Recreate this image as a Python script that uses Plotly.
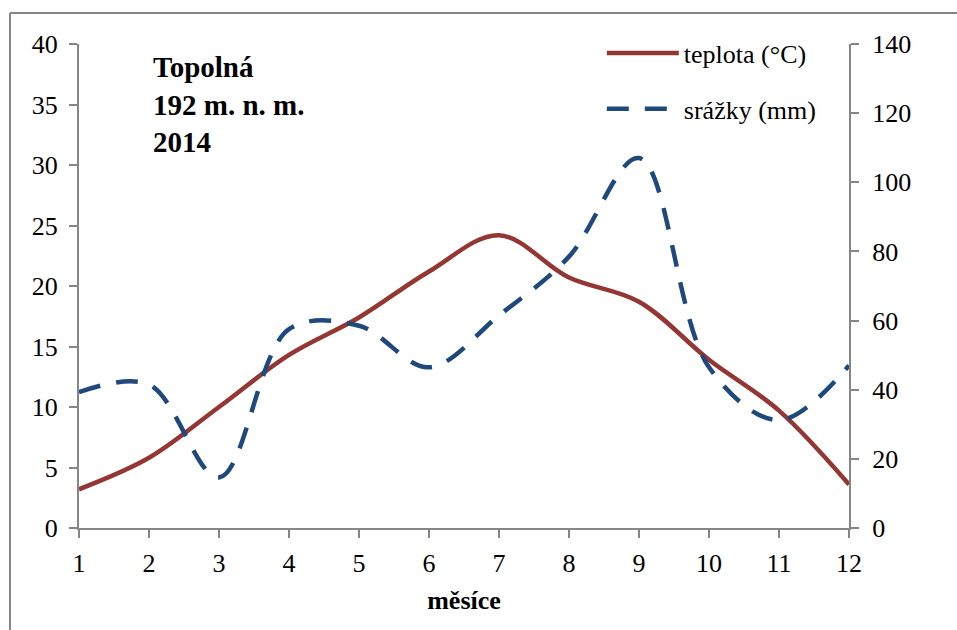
import plotly.graph_objects as go

months = [1, 2, 3, 4, 5, 6, 7, 8, 9, 10, 11, 12]
teplota = [3.2, 5.8, 10.0, 14.3, 17.4, 21.2, 24.2, 20.7, 18.7, 13.9, 9.7, 3.6]
srazky = [39.3, 41.5, 14.6, 57.5, 58.5, 46.5, 61.5, 78.5, 107.0, 46.5, 31.2, 47.0]

FONT = "Liberation Serif"
AXC = "#868686"

fig = go.Figure()
fig.add_trace(go.Scatter(
    x=months, y=teplota, name="teplota (°C)", mode="lines",
    line=dict(color="#943634", width=4.5, shape="spline", smoothing=1),
    legendgroup="a", yaxis="y"))
fig.add_trace(go.Scatter(
    x=months, y=srazky, name="srážky (mm)", mode="lines",
    line=dict(color="#1F497D", width=4.5, shape="spline", smoothing=1, dash="22px,16px"),
    legendgroup="b", yaxis="y2"))

axis_common = dict(showline=True, linecolor=AXC, linewidth=2, ticks="outside",
                   tickcolor=AXC, tickwidth=2, ticklen=8, showgrid=False, zeroline=False,
                   tickfont=dict(family=FONT, size=26, color="black"))

fig.update_layout(
    width=957, height=630,
    margin=dict(l=79, r=108, t=44, b=102),
    paper_bgcolor="white", plot_bgcolor="white",
    font=dict(family=FONT, size=26, color="black"),
    xaxis=dict(range=[1, 12], tickmode="linear", tick0=1, dtick=1,
               title=dict(text="<b>měsíce</b>", font=dict(family=FONT, size=26), standoff=14),
               ticklabelstandoff=3, **axis_common),
    yaxis=dict(range=[0, 40], tickmode="linear", tick0=0, dtick=5,
               ticklabelstandoff=6, **axis_common),
    yaxis2=dict(range=[0, 140], tickmode="linear", tick0=0, dtick=20, overlaying="y",
                side="right", ticklabelstandoff=8, **axis_common),
    legend=dict(x=0.679, y=1.03, xanchor="left", yanchor="top", bgcolor="rgba(0,0,0,0)",
                traceorder="grouped", tracegroupgap=19, itemwidth=72,
                font=dict(family=FONT, size=26)),
    showlegend=True,
)

fig.add_annotation(
    xref="paper", yref="paper", x=0.093, y=0.99, xanchor="left", yanchor="top",
    text="<b>Topolná<br>192 m. n. m.<br>2014</b>", showarrow=False, align="left",
    font=dict(family=FONT, size=29, color="black"))

# outer chart frame (partially visible)
fig.add_shape(type="line", xref="paper", yref="paper", x0=-0.0896, x1=-0.0896, y0=1.064, y1=-0.3,
              line=dict(color=AXC, width=2))
fig.add_shape(type="line", xref="paper", yref="paper", x0=-0.0896, x1=1.2, y0=1.064, y1=1.064,
              line=dict(color=AXC, width=2))

fig.write_html("out.html")
